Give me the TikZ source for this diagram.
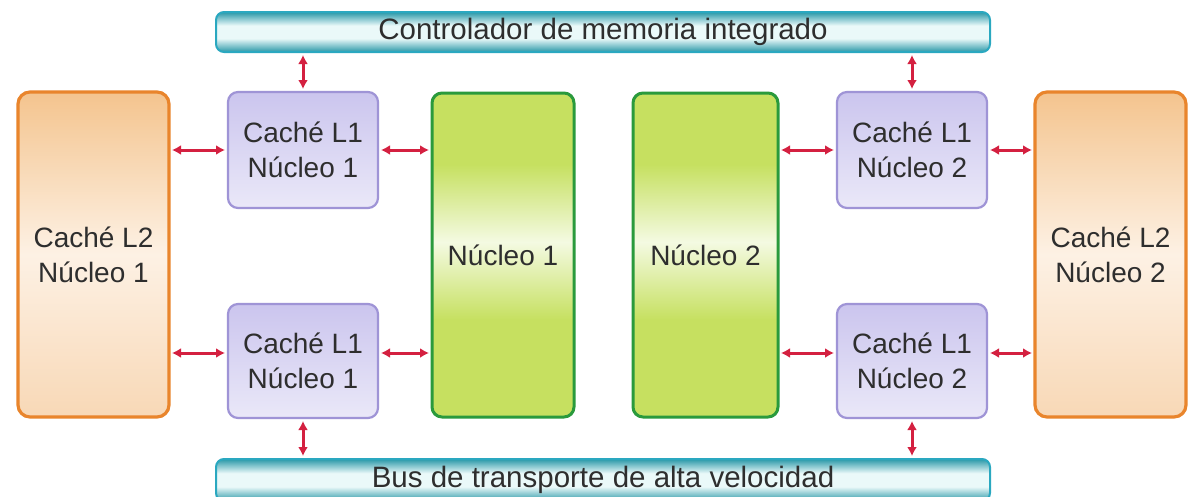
\documentclass[tikz,border=0pt]{standalone}
\usepackage{fontspec}
\setmainfont{Liberation Sans}
\usetikzlibrary{arrows.meta}
\definecolor{tealdark}{HTML}{2A98A8}
\definecolor{teallight}{HTML}{EAF9F9}
\definecolor{tealborder}{HTML}{2AA8C0}
\definecolor{greenfill}{HTML}{C6E060}
\definecolor{greenlight}{HTML}{F4FAE2}
\definecolor{greenborder}{HTML}{2A9A3C}
\definecolor{lavtop}{HTML}{CBC5EE}
\definecolor{lavbot}{HTML}{EAE8F8}
\definecolor{lavborder}{HTML}{9F94D6}
\definecolor{orgtop}{HTML}{F4C48E}
\definecolor{orgmid}{HTML}{FDF1E4}
\definecolor{orgbot}{HTML}{F8D8B6}
\definecolor{orgborder}{HTML}{E9852C}
\definecolor{arrowred}{HTML}{D42040}
\definecolor{txt}{HTML}{2E2E2E}
\pgfdeclareverticalshading{coreshade}{100bp}{color(0bp)=(greenfill); color(25bp)=(greenfill); color(40bp)=(greenfill); color(52bp)=(greenlight); color(64bp)=(greenfill); color(75bp)=(greenfill); color(100bp)=(greenfill)}
\pgfdeclareverticalshading{barshade}{100bp}{color(0bp)=(tealdark); color(25bp)=(tealdark); color(42bp)=(teallight); color(58bp)=(teallight); color(75bp)=(tealdark); color(100bp)=(tealdark)}
\pgfdeclareverticalshading{ltwoshade}{100bp}{color(0bp)=(orgbot); color(25bp)=(orgbot); color(50bp)=(orgmid); color(75bp)=(orgtop); color(100bp)=(orgtop)}
\tikzset{
  every node/.style={inner sep=0pt, outer sep=0pt, text=txt, align=center,
    font=\fontsize{28}{35}\selectfont},
  busbar/.style={draw=tealborder, line width=2pt, rounded corners=8pt,
    shading=barshade, font=\fontsize{29.5}{35}\selectfont,
    minimum width=774pt, minimum height=40pt},
  corebox/.style={draw=greenborder, line width=3pt, rounded corners=10pt,
    shading=coreshade, minimum height=324pt},
  lonebox/.style={draw=lavborder, line width=2.2pt, rounded corners=10pt,
    top color=lavtop, bottom color=lavbot,
    minimum width=150pt},
  ltwobox/.style={draw=orgborder, line width=3.2pt, rounded corners=12pt,
    shading=ltwoshade,
    minimum width=151pt, minimum height=325pt},
  link/.style={draw=arrowred, line width=3pt,
    {Latex[length=9pt,width=10pt]}-{Latex[length=9pt,width=10pt]},
    shorten <=3pt, shorten >=3pt}
}
\begin{document}
\begin{tikzpicture}[x=1pt,y=1pt]
\clip (0,-496) rectangle (1195,0);
\fill[white] (0,-496) rectangle (1195,0);
% bars
\node[busbar] (ctrl) at (603,-32) {Controlador de memoria integrado};
\node[busbar, minimum height=42pt] (bus) at (603,-480) {\raisebox{3pt}{Bus de transporte de alta velocidad}};
% L2 caches
\node[ltwobox] (l2a) at (93.5,-254.5) {Caché L2\\Núcleo 1};
\node[ltwobox] (l2b) at (1110.5,-254.5) {Caché L2\\Núcleo 2};
% L1 caches
\node[lonebox, minimum height=116pt] (l1a) at (303,-150) {Caché L1\\Núcleo 1};
\node[lonebox, minimum height=114pt] (l1b) at (303,-361) {Caché L1\\Núcleo 1};
\node[lonebox, minimum height=116pt] (l1c) at (912,-150) {Caché L1\\Núcleo 2};
\node[lonebox, minimum height=114pt] (l1d) at (912,-361) {Caché L1\\Núcleo 2};
% cores
\node[corebox, minimum width=142pt] (n1) at (503,-255) {Núcleo 1};
\node[corebox, minimum width=145pt] (n2) at (705.5,-255) {Núcleo 2};
% vertical links
\draw[link] (ctrl.south -| l1a.north) -- (l1a.north);
\draw[link] (ctrl.south -| l1c.north) -- (l1c.north);
\draw[link] (l1b.south) -- (bus.north -| l1b.south);
\draw[link] (l1d.south) -- (bus.north -| l1d.south);
% horizontal links top row
\draw[link] (l2a.east |- l1a.west) -- (l1a.west);
\draw[link] (l1a.east) -- (n1.west |- l1a.east);
\draw[link] (n2.east |- l1c.west) -- (l1c.west);
\draw[link] (l1c.east) -- (l2b.west |- l1c.east);
% horizontal links bottom row
\coordinate (rowb) at (0,-353);
\draw[link] (l2a.east |- rowb) -- (l1b.west |- rowb);
\draw[link] (l1b.east |- rowb) -- (n1.west |- rowb);
\draw[link] (n2.east |- rowb) -- (l1d.west |- rowb);
\draw[link] (l1d.east |- rowb) -- (l2b.west |- rowb);
\end{tikzpicture}
\end{document}
